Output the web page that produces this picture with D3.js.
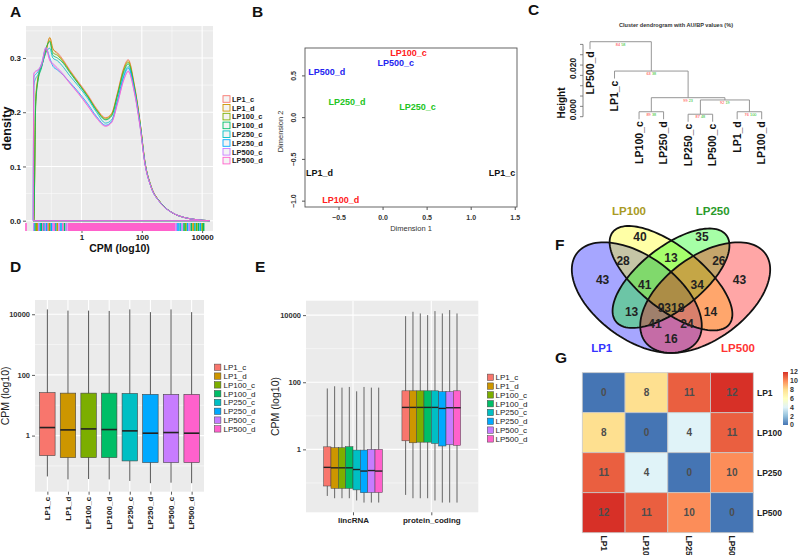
<!DOCTYPE html>
<html>
<head>
<meta charset="utf-8">
<script src="https://cdn.jsdelivr.net/npm/d3@7/dist/d3.min.js"></script>
<style>
html,body{margin:0;padding:0;background:#fff;}
svg{display:block;}
svg text{font-family:"Liberation Sans",Arial,Helvetica,sans-serif;}
</style>
</head>
<body>
<svg id="fig" width="800" height="555" viewBox="0 0 800 555"></svg>
<script>
// ================= DATA =================
const samples = ["LP1_c","LP1_d","LP100_c","LP100_d","LP250_c","LP250_d","LP500_c","LP500_d"];
const sampleColors = ["#F8766D","#CD9600","#7CAE00","#00BE67","#00BFC4","#00A9FF","#C77CFF","#FF61CC"];

// Panel A: density of log10 CPM
const densityLogCPM = [-1.6,-1.58,-1.52,-1.45,-1.32,-1.18,-1.05,-0.95,-0.8,-0.6,-0.4,-0.1,0.2,0.5,0.8,1.0,1.2,1.4,1.55,1.75,1.95,2.1,2.3,2.6,3.0,3.4,3.8,4.25];
const densityLP1_c   = [0,0,0.225,0.262,0.288,0.31,0.337,0.316,0.31,0.296,0.279,0.256,0.233,0.207,0.19,0.198,0.238,0.282,0.297,0.252,0.179,0.11,0.065,0.035,0.015,0.006,0.002,0];
const densityLP1_d   = [0,0,0.22,0.26,0.287,0.312,0.338,0.318,0.308,0.294,0.277,0.254,0.231,0.205,0.189,0.197,0.236,0.28,0.295,0.25,0.178,0.11,0.065,0.035,0.015,0.006,0.002,0];
const densityLP100_c = [0,0,0.215,0.258,0.285,0.315,0.332,0.31,0.305,0.292,0.276,0.253,0.23,0.204,0.187,0.195,0.234,0.277,0.292,0.248,0.177,0.109,0.064,0.035,0.015,0.006,0.002,0];
const densityLP100_d = [0,0,0.21,0.255,0.283,0.318,0.33,0.305,0.3,0.29,0.274,0.252,0.229,0.203,0.186,0.193,0.232,0.274,0.289,0.246,0.176,0.109,0.064,0.035,0.015,0.006,0.002,0];
const densityLP250_c = [0,0.25,0.262,0.268,0.285,0.31,0.318,0.3,0.295,0.283,0.268,0.248,0.226,0.2,0.18,0.186,0.224,0.268,0.284,0.243,0.173,0.107,0.063,0.034,0.015,0.006,0.002,0];
const densityLP250_d = [0,0.265,0.27,0.274,0.29,0.318,0.3,0.285,0.278,0.268,0.256,0.237,0.216,0.192,0.176,0.183,0.221,0.265,0.281,0.241,0.172,0.107,0.063,0.034,0.015,0.006,0.002,0];
const densityLP500_c = [0,0.272,0.276,0.278,0.29,0.32,0.296,0.29,0.282,0.27,0.255,0.235,0.213,0.19,0.175,0.182,0.218,0.26,0.276,0.238,0.17,0.106,0.063,0.034,0.015,0.006,0.002,0];
const densityLP500_d = [0,0.27,0.275,0.277,0.288,0.318,0.295,0.288,0.28,0.268,0.254,0.234,0.212,0.189,0.174,0.181,0.217,0.259,0.275,0.237,0.17,0.106,0.063,0.034,0.015,0.006,0.002,0];
const densityXTicks = [0,2,4];
const densityXTickLabels = ["1","100","10000"];
const densityYTicks = [0,0.1,0.2,0.3];
const rugLeftLog    = [-1.84,-1.58,-1.54,-1.5,-1.46,-1.42,-1.37,-1.33,-1.28,-1.24,-1.2,-1.15,-1.1,-1.05,-1.0,-0.95,-0.9,-0.85,-0.8,-0.74,-0.68,-0.62,-0.56,-0.5];
const rugLeftSample = [7,6,4,2,1,6,5,3,7,4,6,5,0,2,5,6,7,4,1,6,5,7,3,6];
const rugRightLog    = [3.14,3.2,3.27,3.33,3.4,3.46,3.52,3.58,3.64,3.7,3.76,3.82,3.88,3.94,4.0,4.05];
const rugRightSample = [6,5,4,6,3,2,5,6,3,1,4,2,3,5,2,3];
const rugDenseLog = [-0.46, 3.11];

// Panel B: MDS
const mdsDim1 = [1.35,-0.72,0.29,-0.48,0.39,-0.41,0.145,-0.64];
const mdsDim2 = [-0.665,-0.665,0.77,-0.985,0.13,0.19,0.66,0.55];
const mdsColors = ["#111111","#111111","#ff2020","#ff2020","#22c422","#22c422","#2424f0","#2424f0"];
const mdsXTicks = [-0.5,0,0.5,1,1.5];
const mdsYTicks = [-1,-0.5,0,0.5];

// Panel C: dendrogram (hclust-style merge matrix)
const dendroLabels = ["LP500_d","LP1_c","LP100_c","LP250_d","LP250_c","LP500_c","LP1_d","LP100_d"];
const dendroMerge = [[-3,-4],[-5,-6],[-7,-8],[2,3],[1,4],[-2,5],[-1,6]];
const dendroHeight = [0.0024,0.0012,0.0024,0.0081,0.0092,0.0221,0.0363];
const dendroAU = [89,87,76,92,99,63,84];
const dendroBP = [38,48,100,19,23,38,58];
const dendroTicks = [0,0.005,0.01,0.015,0.02,0.025,0.03,0.035];
const dendroTickLabels = ["0.000","0.020"];

// Panel D: boxplots of CPM per sample
const dLow    = [0.045,0.036,0.037,0.036,0.032,0.027,0.028,0.027];
const dQ1     = [0.219,0.188,0.188,0.188,0.146,0.129,0.129,0.129];
const dMedian = [1.84,1.54,1.66,1.58,1.43,1.20,1.26,1.20];
const dQ3     = [26.1,25.1,25.1,25.1,24.5,22.9,22.9,22.9];
const dHigh   = [14450,13180,13180,12880,14450,11750,14450,11750];
const cpmTicks = [1,100,10000];
const cpmTickLabels = ["1","100","10000"];

// Panel E: boxplots by biotype
const biotypes = ["lincRNA","protein_coding"];
const eLincLow    = [0.041,0.035,0.035,0.035,0.030,0.026,0.026,0.026];
const eLincQ1     = [0.081,0.069,0.069,0.069,0.062,0.051,0.052,0.052];
const eLincMedian = [0.291,0.282,0.282,0.282,0.251,0.226,0.234,0.226];
const eLincQ3     = [1.19,1.12,1.12,1.20,0.955,0.955,1.0,1.0];
const eLincHigh   = [65.3,75.9,69.2,72.4,53.7,72.4,69.2,69.2];
const eProtLow    = [0.044,0.035,0.035,0.035,0.030,0.026,0.026,0.026];
const eProtQ1     = [1.80,1.57,1.64,1.64,1.50,1.26,1.37,1.32];
const eProtMedian = [17.8,17.8,17.8,17.8,17.8,16.6,17.4,17.4];
const eProtQ3     = [55.6,55.6,55.6,55.6,55.6,52.5,52.5,55.6];
const eProtHigh   = [9333,12589,11220,10000,13183,11220,14125,11220];

// Panel F: Venn
const vennSets = ["LP1","LP100","LP250","LP500"];
const vennSetColors = ["#3333ff","#a89a24","#2a9a2a","#ff3333"];
const vennFills = ["#0000ff","#ffff00","#00ff00","#ff0000"];
const vennCounts = ["40","35","13","28","26","43","43","41","34","9318","13","14","41","24","16"];

// Panel G: heatmap
const heatNames = ["LP1","LP100","LP250","LP500"];
const heatRow1 = [0,8,11,12];
const heatRow2 = [8,0,4,11];
const heatRow3 = [11,4,0,10];
const heatRow4 = [12,11,10,0];
const heatLegendTicks = [0,2,4,6,8,10,12];
const heatPalette = ["#4575B4","#91BFDB","#E0F3F8","#FFFFBF","#FEE090","#FC8D59","#D73027"];

// ================= DRAW =================
const svg = d3.select("#fig");
const SERIF = "'Liberation Serif','Times New Roman',serif";

function txt(g, x, y, s, o) {
  o = o || {};
  const t = g.append("text").attr("x", x).attr("y", y).text(s)
    .attr("font-size", o.size || 8).attr("font-weight", o.weight || "normal")
    .attr("fill", o.fill || "#222").attr("text-anchor", o.anchor || "start");
  if (o.family) t.attr("font-family", o.family);
  if (o.rot !== undefined) t.attr("transform", `rotate(${o.rot},${x},${y})`);
  if (o.dy) t.attr("dy", o.dy);
  return t;
}
function styleAxis(sel, size, weight, fill) {
  sel.select(".domain").remove();
  sel.selectAll(".tick line").attr("stroke", "#333").attr("stroke-width", 0.8);
  sel.selectAll(".tick text").attr("font-family", "'Liberation Sans',Arial,sans-serif")
    .attr("font-size", size).attr("font-weight", weight).attr("fill", fill);
}

// panel letters
const panelLetters = ["A","B","C","D","E","F","G"];
const letterPos = [[10,16.5],[252,16.5],[528,15],[10,272],[255,272],[555,250],[555,363]];
panelLetters.forEach((l,i)=>txt(svg, letterPos[i][0], letterPos[i][1], l, {size:15.5, weight:"bold", fill:"#111"}));

// ---------- Panel A ----------
(function(){
  const L=26,R=213,T=26,B=231;
  const g = svg.append("g");
  const x = d3.scaleLinear().domain([-1.84,4.36]).range([L,R]);
  const y = d3.scaleLinear().domain([-0.019,0.359]).range([B,T]);
  g.append("rect").attr("x",L).attr("y",T).attr("width",R-L).attr("height",B-T).attr("fill","#EBEBEB");
  [-1,1,3].forEach(v=>g.append("line").attr("x1",x(v)).attr("x2",x(v)).attr("y1",T).attr("y2",B).attr("stroke","#fff").attr("stroke-width",0.5));
  [0.05,0.15,0.25,0.35].forEach(v=>g.append("line").attr("x1",L).attr("x2",R).attr("y1",y(v)).attr("y2",y(v)).attr("stroke","#fff").attr("stroke-width",0.5));
  densityXTicks.forEach(v=>g.append("line").attr("x1",x(v)).attr("x2",x(v)).attr("y1",T).attr("y2",B).attr("stroke","#fff").attr("stroke-width",1.1));
  densityYTicks.forEach(v=>g.append("line").attr("x1",L).attr("x2",R).attr("y1",y(v)).attr("y2",y(v)).attr("stroke","#fff").attr("stroke-width",1.1));

  const series = [densityLP1_c,densityLP1_d,densityLP100_c,densityLP100_d,densityLP250_c,densityLP250_d,densityLP500_c,densityLP500_d];
  const line = d3.line().x(d=>x(d[0])).y(d=>y(d[1])).curve(d3.curveMonotoneX);
  series.forEach((arr,i)=>{
    const pts = densityLogCPM.map((v,j)=>[v,arr[j]]);
    g.append("path").attr("d", line(pts)+"Z").attr("fill","none")
      .attr("stroke",sampleColors[i]).attr("stroke-width",0.9).attr("stroke-opacity",0.9);
  });
  // rug
  const rT = B-8;
  g.append("rect").attr("x",x(rugDenseLog[0])).attr("y",rT).attr("width",x(rugDenseLog[1])-x(rugDenseLog[0])).attr("height",B-rT).attr("fill",sampleColors[7]);
  rugLeftLog.concat(rugRightLog).forEach((v,i)=>{
    const si = i < rugLeftLog.length ? rugLeftSample[i] : rugRightSample[i-rugLeftLog.length];
    g.append("line").attr("x1",x(v)).attr("x2",x(v)).attr("y1",rT).attr("y2",B).attr("stroke",sampleColors[si]).attr("stroke-width",1.6);
  });
  // axes
  const ay = g.append("g").attr("transform",`translate(${L},0)`)
    .call(d3.axisLeft(y).tickValues(densityYTicks).tickFormat(d3.format(".1f")).tickSize(3).tickPadding(2));
  styleAxis(ay, 8, "bold", "#222");
  const axb = g.append("g").attr("transform",`translate(0,${B})`)
    .call(d3.axisBottom(x).tickValues(densityXTicks).tickFormat((d,i)=>densityXTickLabels[i]).tickSize(2).tickPadding(1));
  styleAxis(axb, 8, "bold", "#222");
  txt(g, (L+R)/2-0, 251.5, "CPM (log10)", {size:10.5, weight:"bold", anchor:"middle", fill:"#111"});
  txt(g, 10.5, (T+B)/2, "density", {size:12.5, weight:"bold", anchor:"middle", rot:-90, fill:"#111"});
  // legend
  samples.forEach((s,i)=>{
    const cy = 99 + i*8.8;
    g.append("rect").attr("x",223).attr("y",cy-3.3).attr("width",7).attr("height",6.6)
      .attr("fill","#f4f4f4").attr("stroke",sampleColors[i]).attr("stroke-width",0.9);
    txt(g, 232, cy+2.7, s, {size:7.5, weight:"bold", fill:"#222"});
  });
})();

// ---------- Panel B ----------
(function(){
  const L=305,R=517,T=48,B=207;
  const g = svg.append("g");
  const x = d3.scaleLinear().domain([-0.886,1.52]).range([L,R]);
  const y = d3.scaleLinear().domain([-1.07,0.834]).range([B,T]);
  g.append("rect").attr("x",L).attr("y",T).attr("width",R-L).attr("height",B-T).attr("fill","none").attr("stroke","#555").attr("stroke-width",0.9);
  mdsXTicks.forEach(v=>{
    g.append("line").attr("x1",x(v)).attr("x2",x(v)).attr("y1",B).attr("y2",B+3).attr("stroke","#555");
    txt(g, x(v), 220, d3.format(".1f")(v), {size:7, weight:"bold", anchor:"middle", fill:"#333"});
  });
  mdsYTicks.forEach(v=>{
    g.append("line").attr("x1",L-3).attr("x2",L).attr("y1",y(v)).attr("y2",y(v)).attr("stroke","#555");
    txt(g, 296, y(v), d3.format(".1f")(v), {size:7, weight:"bold", anchor:"middle", rot:-90, fill:"#333"});
  });
  txt(g, (L+R)/2, 231, "Dimension 1", {size:7.5, anchor:"middle", fill:"#333"});
  txt(g, 283, (T+B)/2+4, "Dimension 2", {size:7.5, anchor:"middle", rot:-90, fill:"#333"});
  samples.forEach((s,i)=>{
    txt(g, x(mdsDim1[i]), y(mdsDim2[i]), s, {size:9, weight:"bold", anchor:"middle", fill:mdsColors[i], dy:"0.35em"});
  });
})();

// ---------- Panel C ----------
(function(){
  const g = svg.append("g");
  const x = d3.scalePoint().domain(dendroLabels).range([590,761.7]);
  const y = d3.scaleLinear().domain([0,0.035]).range([116.7,44.4]);
  const hang = 0.1*d3.max(dendroHeight);
  txt(g, 676, 27, "Cluster dendrogram with AU/BP values (%)", {size:5.6, weight:"bold", anchor:"middle", fill:"#333"});
  // axis
  g.append("line").attr("x1",583).attr("x2",583).attr("y1",y(0)).attr("y2",y(0.035)).attr("stroke","#666").attr("stroke-width",0.8);
  dendroTicks.forEach(v=>g.append("line").attr("x1",580).attr("x2",583).attr("y1",y(v)).attr("y2",y(v)).attr("stroke","#666").attr("stroke-width",0.8));
  [0,0.02].forEach((v,i)=>txt(g, 576, y(v)-7, dendroTickLabels[i], {size:8.5, weight:"bold", anchor:"middle", rot:-90, fill:"#222"}));
  txt(g, 565, 103, "Height", {size:10, weight:"bold", anchor:"middle", rot:-90, fill:"#111"});
  const nodeX = [];
  dendroMerge.forEach((m,i)=>{
    const h = dendroHeight[i];
    const kids = m.map(k => k<0 ? {x:x(dendroLabels[-k-1]), bottom:y(h-hang), leaf:dendroLabels[-k-1]}
                                  : {x:nodeX[k-1], bottom:y(dendroHeight[k-1])});
    nodeX[i] = (kids[0].x + kids[1].x)/2;
    g.append("line").attr("x1",kids[0].x).attr("x2",kids[1].x).attr("y1",y(h)).attr("y2",y(h)).attr("stroke","#8a8a8a").attr("stroke-width",0.9);
    kids.forEach(k=>{
      g.append("line").attr("x1",k.x).attr("x2",k.x).attr("y1",y(h)).attr("y2",k.bottom).attr("stroke","#8a8a8a").attr("stroke-width",0.9);
      if (k.leaf) txt(g, k.x, k.bottom+2, k.leaf, {size:10.5, weight:"bold", anchor:"end", rot:-90, fill:"#111", dy:"0.35em"});
    });
    txt(g, nodeX[i]-0.6, y(h)+4, String(dendroAU[i]), {size:3.8, anchor:"end", fill:"#ff3030"});
    txt(g, nodeX[i]+0.6, y(h)+4, String(dendroBP[i]), {size:3.8, anchor:"start", fill:"#20c020"});
  });
})();

// ---------- Panel D ----------
(function(){
  const L=35,R=204,T=300,B=491.7;
  const g = svg.append("g");
  const x = d3.scalePoint().domain(samples).range([L,R]).padding(0.6);
  const y = d3.scaleLog().domain([Math.pow(10,-1.85),Math.pow(10,4.47)]).range([B,T]);
  g.append("rect").attr("x",L).attr("y",T).attr("width",R-L).attr("height",B-T).attr("fill","#EBEBEB");
  [0.1,10,1000].forEach(v=>g.append("line").attr("x1",L).attr("x2",R).attr("y1",y(v)).attr("y2",y(v)).attr("stroke","#fff").attr("stroke-width",0.5));
  cpmTicks.forEach(v=>g.append("line").attr("x1",L).attr("x2",R).attr("y1",y(v)).attr("y2",y(v)).attr("stroke","#fff").attr("stroke-width",1.1));
  samples.forEach(s=>g.append("line").attr("x1",x(s)).attr("x2",x(s)).attr("y1",T).attr("y2",B).attr("stroke","#fff").attr("stroke-width",1.1));
  const bw = x.step()*0.75;
  samples.forEach((s,i)=>{
    const cx = x(s);
    g.append("line").attr("x1",cx).attr("x2",cx).attr("y1",y(dLow[i])).attr("y2",y(dHigh[i])).attr("stroke","#555").attr("stroke-width",1);
    g.append("rect").attr("x",cx-bw/2).attr("y",y(dQ3[i])).attr("width",bw).attr("height",y(dQ1[i])-y(dQ3[i]))
      .attr("fill",sampleColors[i]).attr("stroke","#444").attr("stroke-width",0.6);
    g.append("line").attr("x1",cx-bw/2).attr("x2",cx+bw/2).attr("y1",y(dMedian[i])).attr("y2",y(dMedian[i])).attr("stroke","#222").attr("stroke-width",1.6);
  });
  const ay = g.append("g").attr("transform",`translate(${L},0)`)
    .call(d3.axisLeft(y).tickValues(cpmTicks).tickFormat((d,i)=>cpmTickLabels[i]).tickSize(3).tickPadding(2));
  styleAxis(ay, 7.5, "bold", "#333");
  const axb = g.append("g").attr("transform",`translate(0,${B})`)
    .call(d3.axisBottom(x).tickSize(3).tickFormat(""));
  styleAxis(axb, 8, "bold", "#222");
  samples.forEach(s=>txt(g, x(s), B+5, s, {size:8, weight:"bold", anchor:"end", rot:-90, fill:"#222", dy:"0.35em"}));
  txt(g, 9, (T+B)/2, "CPM (log10)", {size:10.5, anchor:"middle", rot:-90, fill:"#222"});
  samples.forEach((s,i)=>{
    const cy = 367.3 + i*8.8;
    g.append("rect").attr("x",214.3).attr("y",cy-3.2).attr("width",6.6).attr("height",6.4)
      .attr("fill",sampleColors[i]).attr("stroke","#444").attr("stroke-width",0.5);
    txt(g, 223.5, cy+2.8, s, {size:8, fill:"#222"});
  });
})();

// ---------- Panel E ----------
(function(){
  const L=306,R=478.3,T=300.7,B=512.3;
  const g = svg.append("g");
  const x = d3.scalePoint().domain(biotypes).range([L,R]).padding(0.6);
  const y = d3.scaleLog().domain([Math.pow(10,-1.875),Math.pow(10,4.43)]).range([B,T]);
  g.append("rect").attr("x",L).attr("y",T).attr("width",R-L).attr("height",B-T).attr("fill","#EBEBEB");
  [0.1,10,1000].forEach(v=>g.append("line").attr("x1",L).attr("x2",R).attr("y1",y(v)).attr("y2",y(v)).attr("stroke","#fff").attr("stroke-width",0.5));
  cpmTicks.forEach(v=>g.append("line").attr("x1",L).attr("x2",R).attr("y1",y(v)).attr("y2",y(v)).attr("stroke","#fff").attr("stroke-width",1.1));
  biotypes.forEach(s=>g.append("line").attr("x1",x(s)).attr("x2",x(s)).attr("y1",T).attr("y2",B).attr("stroke","#fff").attr("stroke-width",1.1));
  const step = x.step();
  const bw = step*0.75/samples.length;
  const stats = [
    [eLincLow,eLincQ1,eLincMedian,eLincQ3,eLincHigh],
    [eProtLow,eProtQ1,eProtMedian,eProtQ3,eProtHigh]
  ];
  biotypes.forEach((bt,k)=>{
    const [lo,q1,md,q3,hi] = stats[k];
    samples.forEach((s,i)=>{
      const cx = x(bt) - step*0.375 + (i+0.5)*bw;
      g.append("line").attr("x1",cx).attr("x2",cx).attr("y1",y(lo[i])).attr("y2",y(hi[i])).attr("stroke","#666").attr("stroke-width",1);
      g.append("rect").attr("x",cx-bw/2).attr("y",y(q3[i])).attr("width",bw).attr("height",y(q1[i])-y(q3[i]))
        .attr("fill",sampleColors[i]).attr("stroke","#444").attr("stroke-width",0.5);
      g.append("line").attr("x1",cx-bw/2).attr("x2",cx+bw/2).attr("y1",y(md[i])).attr("y2",y(md[i])).attr("stroke","#222").attr("stroke-width",1.4);
    });
  });
  const ay = g.append("g").attr("transform",`translate(${L},0)`)
    .call(d3.axisLeft(y).tickValues(cpmTicks).tickFormat((d,i)=>cpmTickLabels[i]).tickSize(3).tickPadding(2));
  styleAxis(ay, 7.5, "bold", "#333");
  const axb = g.append("g").attr("transform",`translate(0,${B})`)
    .call(d3.axisBottom(x).tickSize(3).tickPadding(2));
  styleAxis(axb, 8, "bold", "#222");
  txt(g, 279, (T+B)/2, "CPM (log10)", {size:10.5, anchor:"middle", rot:-90, fill:"#222"});
  samples.forEach((s,i)=>{
    const cy = 377.3 + i*8.8;
    g.append("rect").attr("x",487.3).attr("y",cy-3.2).attr("width",6.2).attr("height",6.4)
      .attr("fill",sampleColors[i]).attr("stroke","#444").attr("stroke-width",0.5);
    txt(g, 495.5, cy+2.8, s, {size:8, fill:"#222"});
  });
})();

// ---------- Panel F ----------
(function(){
  const g = svg.append("g");
  const vx = d3.scaleLinear().domain([0,1]).range([557,785]);
  const vy = d3.scaleLinear().domain([0,1]).range([388.8,194.8]);
  // ellipse layout in unit coords (cx, cy, a, b, rotation)
  const ell = [[0.35,0.47,0.35,0.20,135],[0.50,0.57,0.35,0.15,135],[0.50,0.57,0.33,0.15,45],[0.65,0.47,0.35,0.20,45]];
  const pathFor = e => {
    const [cx,cy,a,b,r] = e, th = r*Math.PI/180;
    const pts = d3.range(0,120).map(k=>{
      const t = k/120*2*Math.PI, ex=a*Math.cos(t), ey=b*Math.sin(t);
      return [vx(cx+ex*Math.cos(th)-ey*Math.sin(th)), vy(cy+ex*Math.sin(th)+ey*Math.cos(th))];
    });
    return d3.line().curve(d3.curveLinearClosed)(pts);
  };
  ell.forEach((e,i)=>g.append("path").attr("d",pathFor(e)).attr("fill",vennFills[i]).attr("fill-opacity",0.35));
  ell.forEach((e,i)=>g.append("path").attr("d",pathFor(e)).attr("fill","none").attr("stroke","#111").attr("stroke-width",1.8));
  const labU = [0.364,0.636,0.5,0.29,0.71,0.20,0.80,0.385,0.615,0.5,0.327,0.673,0.43,0.57,0.5];
  const labV = [0.781,0.781,0.673,0.659,0.659,0.561,0.561,0.535,0.535,0.42,0.397,0.397,0.334,0.334,0.26];
  vennCounts.forEach((c,i)=>txt(g, vx(labU[i]), vy(labV[i]), c, {size:12, weight:"bold", anchor:"middle", family:SERIF, fill:"#222", dy:"0.35em"}));
  const setU = [0.196,0.316,0.683,0.794], setV = [0.209,0.918,0.918,0.209];
  vennSets.forEach((s,i)=>txt(g, vx(setU[i]), vy(setV[i]), s, {size:11.5, weight:"bold", anchor:"middle", family:SERIF, fill:vennSetColors[i], dy:"0.35em"}));
})();

// ---------- Panel G ----------
(function(){
  const g = svg.append("g");
  const x = d3.scaleBand().domain(heatNames).range([582.3,753.3]);
  const y = d3.scaleBand().domain(heatNames).range([372.7,532.7]);
  const col = d3.scaleLinear().domain(heatLegendTicks).range(heatPalette);
  const rows = [heatRow1,heatRow2,heatRow3,heatRow4];
  rows.forEach((r,i)=>r.forEach((v,j)=>{
    g.append("rect").attr("x",x(heatNames[j])).attr("y",y(heatNames[i])).attr("width",x.bandwidth()).attr("height",y.bandwidth())
      .attr("fill",col(v)).attr("stroke","#c8c8c8").attr("stroke-width",0.8);
    txt(g, x(heatNames[j])+x.bandwidth()/2, y(heatNames[i])+y.bandwidth()/2, String(v), {size:10, weight:"bold", anchor:"middle", fill:"#4d4d4d", dy:"0.35em"});
  }));
  heatNames.forEach(n=>txt(g, 757, y(n)+y.bandwidth()/2, n, {size:8.5, weight:"bold", fill:"#222", dy:"0.35em"}));
  heatNames.forEach(n=>txt(g, x(n)+x.bandwidth()/2, 535.5, n, {size:8.5, weight:"bold", fill:"#222", rot:90, dy:"0.35em"}));
  // legend
  const ly = d3.scaleLinear().domain([0,12]).range([425,372]);
  const defs = svg.append("defs");
  const grad = defs.append("linearGradient").attr("id","hgrad").attr("x1",0).attr("x2",0).attr("y1",1).attr("y2",0);
  heatPalette.forEach((c,i)=>grad.append("stop").attr("offset",i/(heatPalette.length-1)).attr("stop-color",c));
  g.append("rect").attr("x",783).attr("y",ly(12)).attr("width",5).attr("height",ly(0)-ly(12)).attr("fill","url(#hgrad)");
  heatLegendTicks.forEach(v=>txt(g, 790, ly(v), String(v), {size:7, weight:"bold", fill:"#333", dy:"0.35em"}));
})();
</script>
</body>
</html>
